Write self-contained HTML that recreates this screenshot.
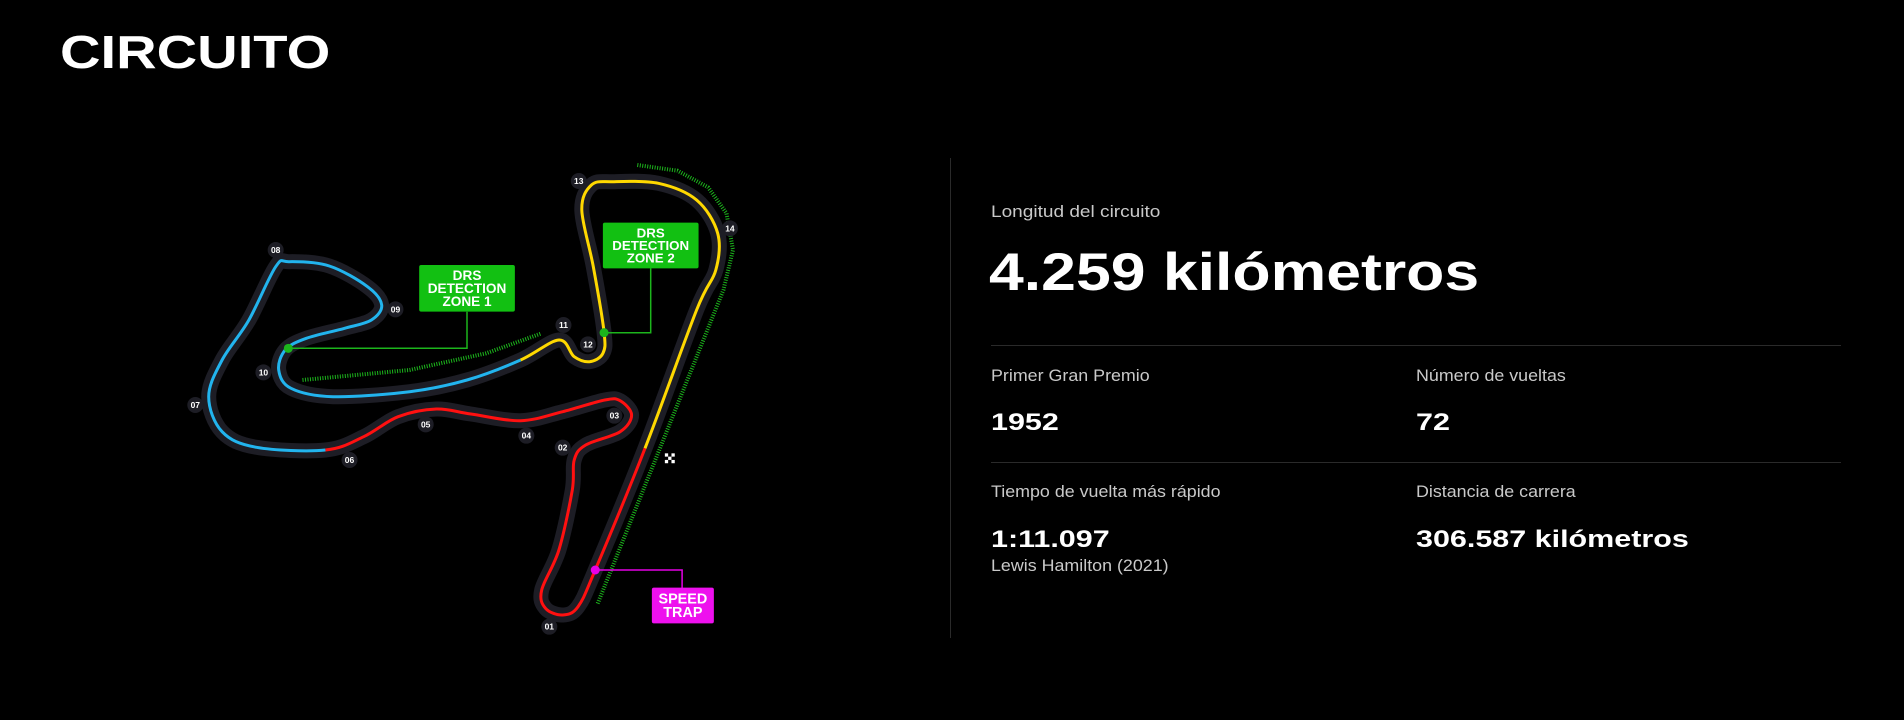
<!DOCTYPE html>
<html><head><meta charset="utf-8"><style>
html,body{margin:0;padding:0;background:#000;width:1904px;height:720px;overflow:hidden;font-family:"Liberation Sans",sans-serif;color:#fff}
.t{position:absolute;white-space:nowrap;transform-origin:0 0}
.lbl{font-size:17px;color:#c9c9c9;transform:scaleX(1.05)}
.val{font-weight:bold;font-size:24px;transform:scaleX(1.27)}
.hr{position:absolute;height:1px;background:#2a2a2a;left:991px;width:850px}
</style></head><body>
<div class="t" style="left:60px;top:25px;font-size:46px;font-weight:900;transform:scaleX(1.22)">CIRCUITO</div>
<div style="position:absolute;left:950px;top:158px;width:1px;height:480px;background:#2a2a2a"></div>
<div class="t lbl" style="left:991px;top:202px;transform:scaleX(1.12)">Longitud del circuito</div>
<div class="t" style="left:989px;top:242px;font-size:53px;font-weight:bold;transform:scaleX(1.18)">4.259 kilómetros</div>
<div class="hr" style="top:345px"></div>
<div class="t lbl" style="left:991px;top:366px">Primer Gran Premio</div>
<div class="t val" style="left:991px;top:409px">1952</div>
<div class="t lbl" style="left:1416px;top:366px">Número de vueltas</div>
<div class="t val" style="left:1416px;top:409px">72</div>
<div class="hr" style="top:462px"></div>
<div class="t lbl" style="left:991px;top:482px">Tiempo de vuelta más rápido</div>
<div class="t val" style="left:991px;top:526px">1:11.097</div>
<div class="t lbl" style="left:991px;top:556px">Lewis Hamilton (2021)</div>
<div class="t lbl" style="left:1416px;top:482px">Distancia de carrera</div>
<div class="t val" style="left:1416px;top:526px">306.587 kilómetros</div>

<svg id="map" width="1904" height="720" style="position:absolute;left:0;top:0" xmlns="http://www.w3.org/2000/svg"></svg>
<script>
const P=[[1085,1260],[1040,1370],[1000,1395],[955,1375],[945,1320],[990,1200],[1025,1020],[1030,930],[1060,885],[1150,845],[1180,795],[1150,752],[1110,750],[1000,785],[890,812],[760,792],[670,777],[570,800],[480,860],[380,900],[200,892],[110,845],[75,740],[110,630],[180,510],[250,350],[285,335],[390,348],[490,410],[527,465],[500,510],[430,535],[330,565],[275,600],[258,660],[290,715],[400,740],[600,725],[750,690],[890,630],[990,570],[1030,620],[1070,635],[1105,610],[1108,545],[1080,350],[1050,180],[1075,105],[1130,95],[1250,100],[1350,150],[1405,250],[1400,360],[1350,480],[1215,895]];
const turns=[["01",965,1430],["02",1000,893],["03",1135,797],["04",905,857],["05",642,823],["06",443,930],["07",40,765],["08",250,300],["09",563,478],["10",218,667],["11",1002,525],["12",1066,583],["13",1042,93],["14",1437,235]];
const M=(p)=>[180+p[0]/2.613,150+p[1]/3];
const NS="http://www.w3.org/2000/svg";
const svg=document.getElementById('map');
function el(t,a,parent){const e=document.createElementNS(NS,t);for(const k in a)e.setAttribute(k,a[k]);(parent||svg).appendChild(e);return e;}
const n=P.length;
function seg(i){const p0=M(P[(i-1+n)%n]),p1=M(P[i]),p2=M(P[(i+1)%n]),p3=M(P[(i+2)%n]);
const c1=[p1[0]+(p2[0]-p0[0])/6,p1[1]+(p2[1]-p0[1])/6],c2=[p2[0]-(p3[0]-p1[0])/6,p2[1]-(p3[1]-p1[1])/6];
return ` C${c1[0].toFixed(1)},${c1[1].toFixed(1)} ${c2[0].toFixed(1)},${c2[1].toFixed(1)} ${p2[0].toFixed(1)},${p2[1].toFixed(1)}`;}
function range(a,b){let s='M'+M(P[a]).map(v=>v.toFixed(1)).join(',');let i=a;while(i!==b){s+=seg(i);i=(i+1)%n;}return s;}
function dots(pts){return 'M'+pts.map(p=>M(p).map(v=>v.toFixed(1)).join(',')).join(' L');}
const s1=el('path',{d:dots([[320,690],[600,660],[800,610],[945,550]]),stroke:'#1cb51c','stroke-width':4,fill:'none','stroke-dasharray':'1 1.5'});


const s2=el('path',{d:dots([[1195,45],[1300,62],[1380,112],[1428,190],[1445,300],[1420,420],[1090,1365]]),stroke:'#1cb51c','stroke-width':4,fill:'none','stroke-dasharray':'1 1.5'});


const cas=el('path',{d:'',stroke:'#1d1d25','stroke-width':15,fill:'none','stroke-linejoin':'round'});


cas.setAttribute('d',(function(){let s='M'+M(P[0]).join(',');for(let i=0;i<n;i++)s+=seg(i);return s+'Z';})());
const red=el('path',{d:range(54,19),stroke:'#ff1010','stroke-width':3,fill:'none'});


const blue=el('path',{d:range(19,39),stroke:'#22b4ee','stroke-width':3,fill:'none'});


const yel=el('path',{d:range(39,54),stroke:'#ffd800','stroke-width':3,fill:'none'});


function line(pts,c,name){const e=el('path',{d:dots(pts),stroke:c,'stroke-width':1.5,fill:'none'});}
line([[283,595],[750,595],[750,485]],'#1cb51c','drs-zone-1-connector');
line([[1108,548],[1230,548],[1230,355]],'#1cb51c','drs-zone-2-connector');
line([[1085,1260],[1312,1260],[1312,1315]],'#e600e6','speed-trap-connector');
function dot(p,c,name){const m=M(p);const e=el('circle',{cx:m[0],cy:m[1],r:4.5,fill:c});}
dot([283,595],'#1cb51c','drs-zone-1-point');
dot([1108,548],'#1cb51c','drs-zone-2-point');
dot([1085,1260],'#e600e6','speed-trap-point');
function box(x1,y1,x2,y2,c,lines,name){const a=M([x1,y1]),b=M([x2,y2]);const g=el('g',{});
el('rect',{x:a[0],y:a[1],width:b[0]-a[0],height:b[1]-a[1],fill:c,rx:2},g);
const cx=(a[0]+b[0])/2,h=b[1]-a[1],lh=h/(lines.length+0.6);
lines.forEach((t,i)=>{const tx=el('text',{x:cx,y:a[1]+lh*(i+0.3)+lh*0.85,'text-anchor':'middle','font-family':'Liberation Sans, sans-serif','font-weight':'bold','font-size':lh*1.05,fill:'#fff'},g);tx.textContent=t;});}
box(625,345,875,485,'#12c012',['DRS','DETECTION','ZONE 1'],'drs-detection-zone-1-label');
box(1105,218,1355,355,'#12c012',['DRS','DETECTION','ZONE 2'],'drs-detection-zone-2-label');
box(1233,1313,1395,1420,'#ee10ee',['SPEED','TRAP'],'speed-trap-label');
turns.forEach(t=>{const m=M([t[1],t[2]]);const g=el('g',{});


el('circle',{cx:m[0],cy:m[1],r:8,fill:'#1d1d25'},g);
const tx=el('text',{x:m[0],y:m[1]+3,'text-anchor':'middle','font-family':'Liberation Sans, sans-serif','font-weight':'bold','font-size':8.5,fill:'#fff'},g);tx.textContent=t[0];});
const f=M([1280,925]);const fg=el('g',{});


for(let i=0;i<3;i++)for(let j=0;j<3;j++)if((i+j)%2===0)el('rect',{x:f[0]-5+i*3.3,y:f[1]-5+j*3.3,width:3.3,height:3.3,fill:'#fff'},fg);
</script>
</body></html>
